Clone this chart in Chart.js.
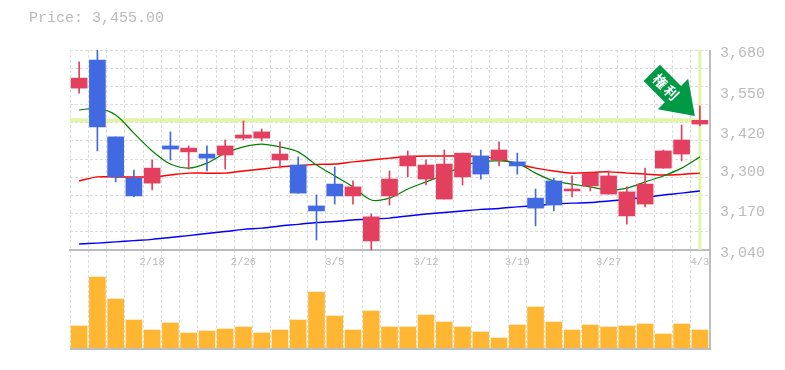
<!DOCTYPE html>
<html>
<head>
<meta charset="utf-8">
<script src="https://cdn.jsdelivr.net/npm/chart.js@4"></script>
<style>
    html, body { margin: 0; padding: 0; background: #fff; }
    #wrap { position: relative; width: 785px; height: 370px; }
    #price-label {
        position: absolute; left: 29px; top: 10px;
        font: 15px "Liberation Mono", monospace; color: #bbb;
    }
    canvas { display: block; }
</style>
</head>
<body>
<div id="wrap">
    <div id="price-label">Price: 3,455.00</div>
    <canvas id="chart" width="785" height="370"></canvas>
</div>
<script>
// Data
const dates = ['2/12','2/13','2/14','2/15','2/18','2/19','2/20','2/21','2/22','2/26','2/27','2/28','3/1','3/4','3/5','3/6','3/7','3/8','3/11','3/12','3/13','3/14','3/15','3/18','3/19','3/20','3/22','3/25','3/26','3/27','3/28','3/29','4/1','4/2','4/3'];
const opens  = [3558,3648,3402,3270,3254,3373,3354,3347,3344,3398,3398,3328,3312,3181,3251,3213,3069,3213,3309,3267,3203,3274,3341,3328,3322,3206,3261,3229,3245,3219,3149,3187,3302,3347,3443];
const closes = [3590,3434,3274,3213,3302,3363,3366,3334,3373,3408,3418,3347,3222,3165,3213,3242,3146,3267,3341,3312,3315,3350,3283,3360,3309,3174,3184,3235,3286,3277,3226,3251,3357,3392,3455];
const highs  = [3642,3680,3402,3296,3328,3418,3373,3373,3392,3453,3427,3386,3338,3216,3306,3261,3155,3293,3357,3328,3360,3350,3360,3386,3350,3235,3270,3277,3286,3293,3242,3302,3360,3440,3501];
const lows   = [3542,3357,3258,3210,3232,3328,3299,3293,3299,3392,3389,3302,3222,3072,3187,3187,3040,3184,3274,3248,3203,3248,3267,3309,3283,3117,3165,3210,3229,3219,3123,3178,3302,3325,3437];
const maShort = [3488,3493,3472,3414,3357,3315,3302,3318,3350,3370,3379,3370,3354,3312,3277,3242,3200,3206,3235,3258,3280,3309,3322,3325,3318,3286,3261,3251,3242,3232,3238,3258,3277,3302,3338];
const maMid   = [3261,3274,3274,3274,3274,3280,3286,3286,3286,3293,3299,3306,3310,3314,3315,3322,3328,3334,3339,3341,3341,3341,3338,3331,3315,3302,3293,3286,3288,3290,3286,3283,3280,3282,3286];
const maLong  = [3059,3062,3066,3070,3074,3080,3086,3093,3099,3106,3110,3117,3122,3128,3131,3136,3139,3142,3149,3155,3160,3165,3170,3173,3178,3182,3187,3190,3192,3197,3202,3208,3216,3222,3229];
const volumes = [22,71,49,28,18,25,15,17,19,21,15,18,28,56,32,18,37,21,21,33,26,21,16,10,23,41,26,18,23,21,22,24,14,24,18];
const priceTicks = [3040,3170,3300,3420,3550,3680];
const lastPrice = 3455;

const RED = '#e34060';
const BLUE = '#4169e1';
const GRID = '#dcdcdc';
const AXIS = '#bdbdbd';
const MARK = '#e2f4a8';
const MONO = '"Liberation Mono", monospace';

const candleColors = closes.map((c, i) => c >= opens[i] ? RED : BLUE);

// Draws the last price cross lines, the frame and the arrow marker
const overlayPlugin = {
    id: 'overlay',
    beforeDatasetsDraw(chart) {
        const { ctx, chartArea, scales } = chart;
        const lastX = scales.x.getPixelForValue(dates.length - 1);
        const lastY = scales.y.getPixelForValue(lastPrice);
        ctx.save();
        ctx.fillStyle = MARK;
        ctx.fillRect(chartArea.left, lastY - 2, lastX - chartArea.left, 4);
        ctx.fillRect(lastX - 1.5, chartArea.top, 3, scales.y.getPixelForValue(3040) - chartArea.top);
        ctx.restore();
    },
    afterDraw(chart) {
        const { ctx, chartArea, scales } = chart;
        ctx.save();
        ctx.strokeStyle = AXIS;
        ctx.lineWidth = 2;
        ctx.beginPath();
        ctx.moveTo(chartArea.left, chartArea.bottom - 1);
        ctx.lineTo(chartArea.right + 1, chartArea.bottom - 1);
        ctx.moveTo(chartArea.right + 1, chartArea.top);
        ctx.lineTo(chartArea.right + 1, chartArea.bottom);
        ctx.stroke();

        // arrow points at the last candle's high, coming from upper left
        const tipX = scales.x.getPixelForValue(dates.length - 1) - 5;
        const tipY = scales.y.getPixelForValue(highs[highs.length - 1]) + 10;
        ctx.translate(tipX, tipY);
        ctx.rotate(Math.PI / 4);
        ctx.fillStyle = '#009a44';
        ctx.beginPath();
        ctx.moveTo(0, 0);
        ctx.lineTo(-31, -21.5);
        ctx.lineTo(-31, -11.5);
        ctx.lineTo(-61, -11.5);
        ctx.lineTo(-61, 11.5);
        ctx.lineTo(-31, 11.5);
        ctx.lineTo(-31, 21.5);
        ctx.closePath();
        ctx.fill();
        ctx.fillStyle = '#fff';
        ctx.font = 'bold 14px "Noto Sans CJK JP", sans-serif';
        ctx.letterSpacing = '2px';
        ctx.textAlign = 'center';
        ctx.textBaseline = 'middle';
        ctx.fillText('権利', -40, 0);
        ctx.restore();
    }
};

new Chart(document.getElementById('chart'), {
    type: 'bar',
    data: {
        labels: dates,
        datasets: [
            // candle bodies
            { data: opens.map((o, i) => [o, closes[i]]), backgroundColor: candleColors, barThickness: 16, grouped: false, yAxisID: 'y', order: 1 },
            // wicks
            { data: lows.map((l, i) => [l, highs[i]]), backgroundColor: candleColors, barThickness: 1, grouped: false, yAxisID: 'y', order: 2 },
            // moving averages run behind the candles
            { type: 'line', data: maShort, borderColor: '#008000', borderWidth: 1.2, pointRadius: 0, tension: 0.3, yAxisID: 'y', order: 3 },
            { type: 'line', data: maMid, borderColor: '#ff0000', borderWidth: 1.5, pointRadius: 0, tension: 0.3, yAxisID: 'y', order: 3 },
            { type: 'line', data: maLong, borderColor: '#0000ff', borderWidth: 1.5, pointRadius: 0, tension: 0.3, yAxisID: 'y', order: 3 },
            // volume
            { data: volumes, backgroundColor: '#ffb733', barThickness: 16, grouped: false, yAxisID: 'yVol', order: 4 }
        ]
    },
    plugins: [overlayPlugin],
    options: {
        responsive: false,
        animation: false,
        layout: { padding: { left: 70, top: 50, right: 0, bottom: 20 } },
        plugins: { legend: { display: false }, tooltip: { enabled: false } },
        scales: {
            x: {
                position: { y: 3040 },
                offset: true,
                grid: { color: GRID, offset: true, drawTicks: false },
                border: { color: AXIS, width: 2, dash: [3, 2] },
                ticks: {
                    autoSkip: false, maxRotation: 0, padding: 6,
                    color: '#bbb', font: { family: MONO, size: 10.5 },
                    callback(value, index) { return (index + 1) % 5 === 0 ? dates[index] : ''; }
                }
            },
            y: {
                position: 'right',
                min: 2720, max: 3680,
                afterBuildTicks(axis) { axis.ticks = priceTicks.map(v => ({ value: v })); },
                afterFit(axis) { axis.width = 76; },
                grid: { display: false },
                border: { display: false },
                ticks: {
                    padding: 3, labelOffset: 3, color: '#bbb',
                    font: { family: MONO, size: 15 },
                    callback(value) { return value.toLocaleString('en-US'); }
                }
            },
            // only carries the dashed horizontal lines of the price pane
            yGrid: {
                display: true,
                position: 'right',
                min: 0, max: 16.5,
                afterBuildTicks(axis) {
                    axis.ticks = [];
                    for (let i = 6; i <= 16; i += 1) axis.ticks.push({ value: i + 0.5 });
                },
                afterFit(axis) { axis.width = 0; },
                grid: { color: GRID, drawTicks: false },
                border: { display: false, dash: [3, 2] },
                ticks: { display: false }
            },
            yVol: {
                display: false,
                min: -2, max: 298
            }
        }
    }
});
</script>
</body>
</html>
